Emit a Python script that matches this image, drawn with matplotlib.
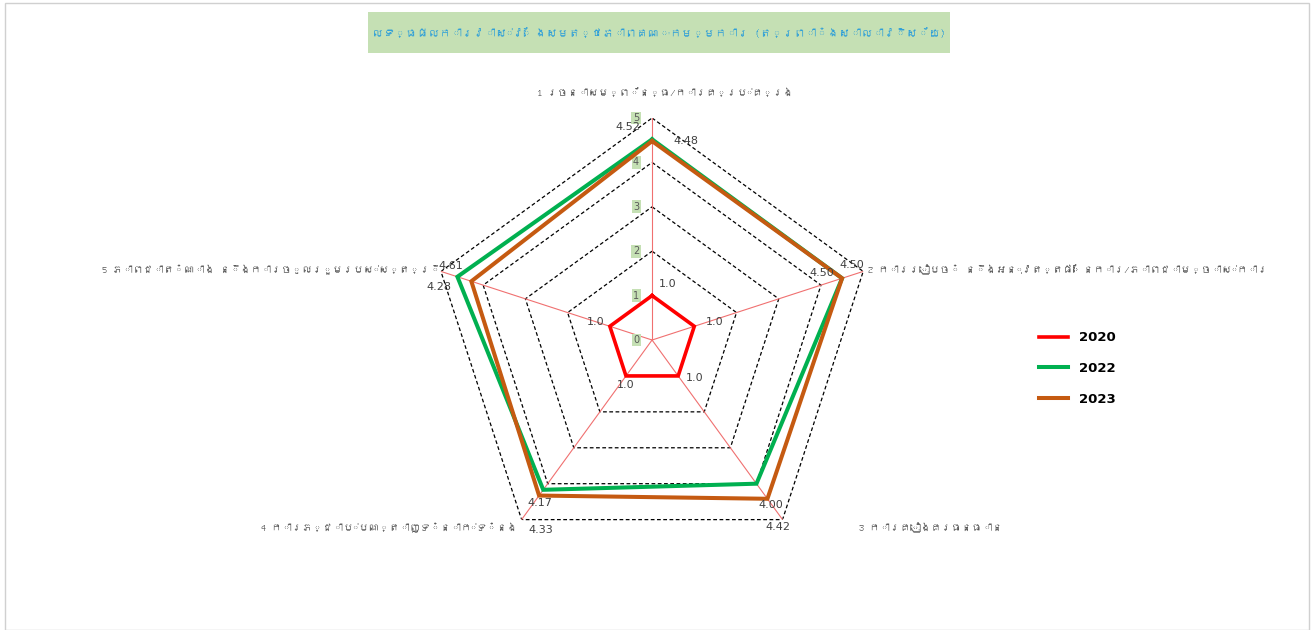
import numpy as np
import matplotlib
matplotlib.use("Agg")
import matplotlib.pyplot as plt
from matplotlib import font_manager
from matplotlib.ft2font import FT2Font
from matplotlib.patches import Rectangle

# data
categories = ["1 រចនាសម្ព័ន្ធ/ការគ្រប់គ្រង",
              "2 ការរៀបចំ និងអនុវត្តផែនការ/ភាពជាម្ចាស់ការ",
              "3 ការគៀងគរធនធាន",
              "4 ការភ្ជាប់បណ្តាញទំនាក់ទំនង",
              "5 ភាពជាតំណាង និងការចូលរួមរបស់ស្ត្រី"]
title = "លទ្ធផលការវាស់វែងសមត្ថភាពគណៈកម្មការ (ត្រពាំងសាលាវិស័យ)"
years = ["2020", "2022", "2023"]
v2020 = [1.0, 1.0, 1.0, 1.0, 1.0]
v2022 = [4.52, 4.50, 4.00, 4.17, 4.61]
v2023 = [4.48, 4.50, 4.42, 4.33, 4.28]
ticks = [0, 1, 2, 3, 4, 5]

# find a font that has khmer glyphs, if any
khmer = None
for f in font_manager.findSystemFonts():
    try:
        if 0x1780 in FT2Font(f).get_charmap():
            font_manager.fontManager.addfont(f)
            khmer = font_manager.FontProperties(fname=f).get_name()
            break
    except Exception:
        pass
fams = ([khmer] if khmer else []) + ["DejaVu Sans"]
plt.rcParams['font.family'] = fams

fig = plt.figure(figsize=(13.14, 6.30), dpi=100)
fig.patches.append(Rectangle((0.004, 0.0), 0.992, 0.996, transform=fig.transFigure,
                             fill=False, edgecolor="#d0d0d0", lw=1))
rend = fig.canvas.get_renderer()

ax = fig.add_axes([0.3273, 0.1079, 0.3379, 0.7048], projection="polar")
ax.set_theta_offset(np.pi / 2)
ax.set_theta_direction(-1)
ax.set_ylim(0, 5)
ax.axis("off")

n = len(categories)
ang = np.linspace(0, 2 * np.pi, n, endpoint=False)
closed = np.append(ang, ang[0])

# polygon gridlines and spokes
for t in ticks[1:]:
    ax.plot(closed, [t] * (n + 1), color="black", lw=0.9, ls=(0, (3, 2)), zorder=1)
for a in ang:
    ax.plot([a, a], [0, 5], color="#f07070", lw=0.8, zorder=1)

# radial tick labels
for t in ticks:
    ax.annotate(str(t), (0, t), xytext=(-16, 0), textcoords="offset pixels",
                ha="center", va="center", fontsize=7, color="#595959",
                family="DejaVu Sans",
                bbox=dict(boxstyle="square,pad=0.15", fc="#c5e0b4", ec="none"))

colors = ["#ff0000", "#00b050", "#c55a11"]
widths = [2.6, 2.9, 2.9]
series = [v2020, v2022, v2023]
for vals, c, w, y in zip(series, colors, widths, years):
    ax.plot(closed, vals + [vals[0]], color=c, lw=w, label=y, zorder=3,
            solid_joinstyle="miter")

# data labels (pixel offsets)
off2020 = [(16, 12), (20, 4), (16, -2), (0, -9), (-14, 4)]
off2022 = [(-24, 12), (-20, 5), (14, -21), (-3, -13), (-7, 11)]
off2023 = [(34, 0), (10, 13), (11, -28), (2, -34), (-32, -6)]
for vals, offs in zip(series, [off2020, off2022, off2023]):
    fmt = "{:.1f}" if vals is v2020 else "{:.2f}"
    for a, v, o in zip(ang, vals, offs):
        ax.annotate(fmt.format(v), (a, v), xytext=o, textcoords="offset pixels",
                    ha="center", va="center", fontsize=8, color="#404040",
                    family="DejaVu Sans", zorder=5)

# category labels, anchored at spoke tips
lab_off = [(13, 26, "center"), (5, 3, "left"), (76, -7, "left"),
           (-4, -7, "right"), (-1, 3, "right")]
lab_w = [224, 344, 88, 250, 305]
cat_txt = []
for a, cat, (dx, dy, ha) in zip(ang, categories, lab_off):
    cat_txt.append(ax.annotate(cat, (a, 5), xytext=(dx, dy), textcoords="offset pixels",
                               ha=ha, va="center", fontsize=12, color="#595959"))
# unshaped khmer runs wide: scale all category labels by one common factor
ratios = [w / t.get_window_extent(rend).width for t, w in zip(cat_txt, lab_w)]
cs = min(12 * np.median(ratios) * 1.15, 12)
for t in cat_txt:
    t.set_fontsize(cs)

fig.patches.append(Rectangle((368 / 1314, 1 - 53 / 630), 582 / 1314, 41 / 630,
                             transform=fig.transFigure, fc="#c5e0b4", ec="none", zorder=0))
tt = fig.text(659 / 1314, 1 - 33 / 630, title, ha="center", va="center", fontsize=16,
              color="#2f9fd8")
tt.set_fontsize(min(16, 16 * 572 / tt.get_window_extent(rend).width))

leg = fig.legend(loc="center left", bbox_to_anchor=(0.782, 0.415), frameon=False,
                 handlelength=2.2, labelspacing=1.35,
                 prop=dict(weight="bold", size=9.5, family="DejaVu Sans"))

fig.savefig("out.png", dpi=100, facecolor="white")
